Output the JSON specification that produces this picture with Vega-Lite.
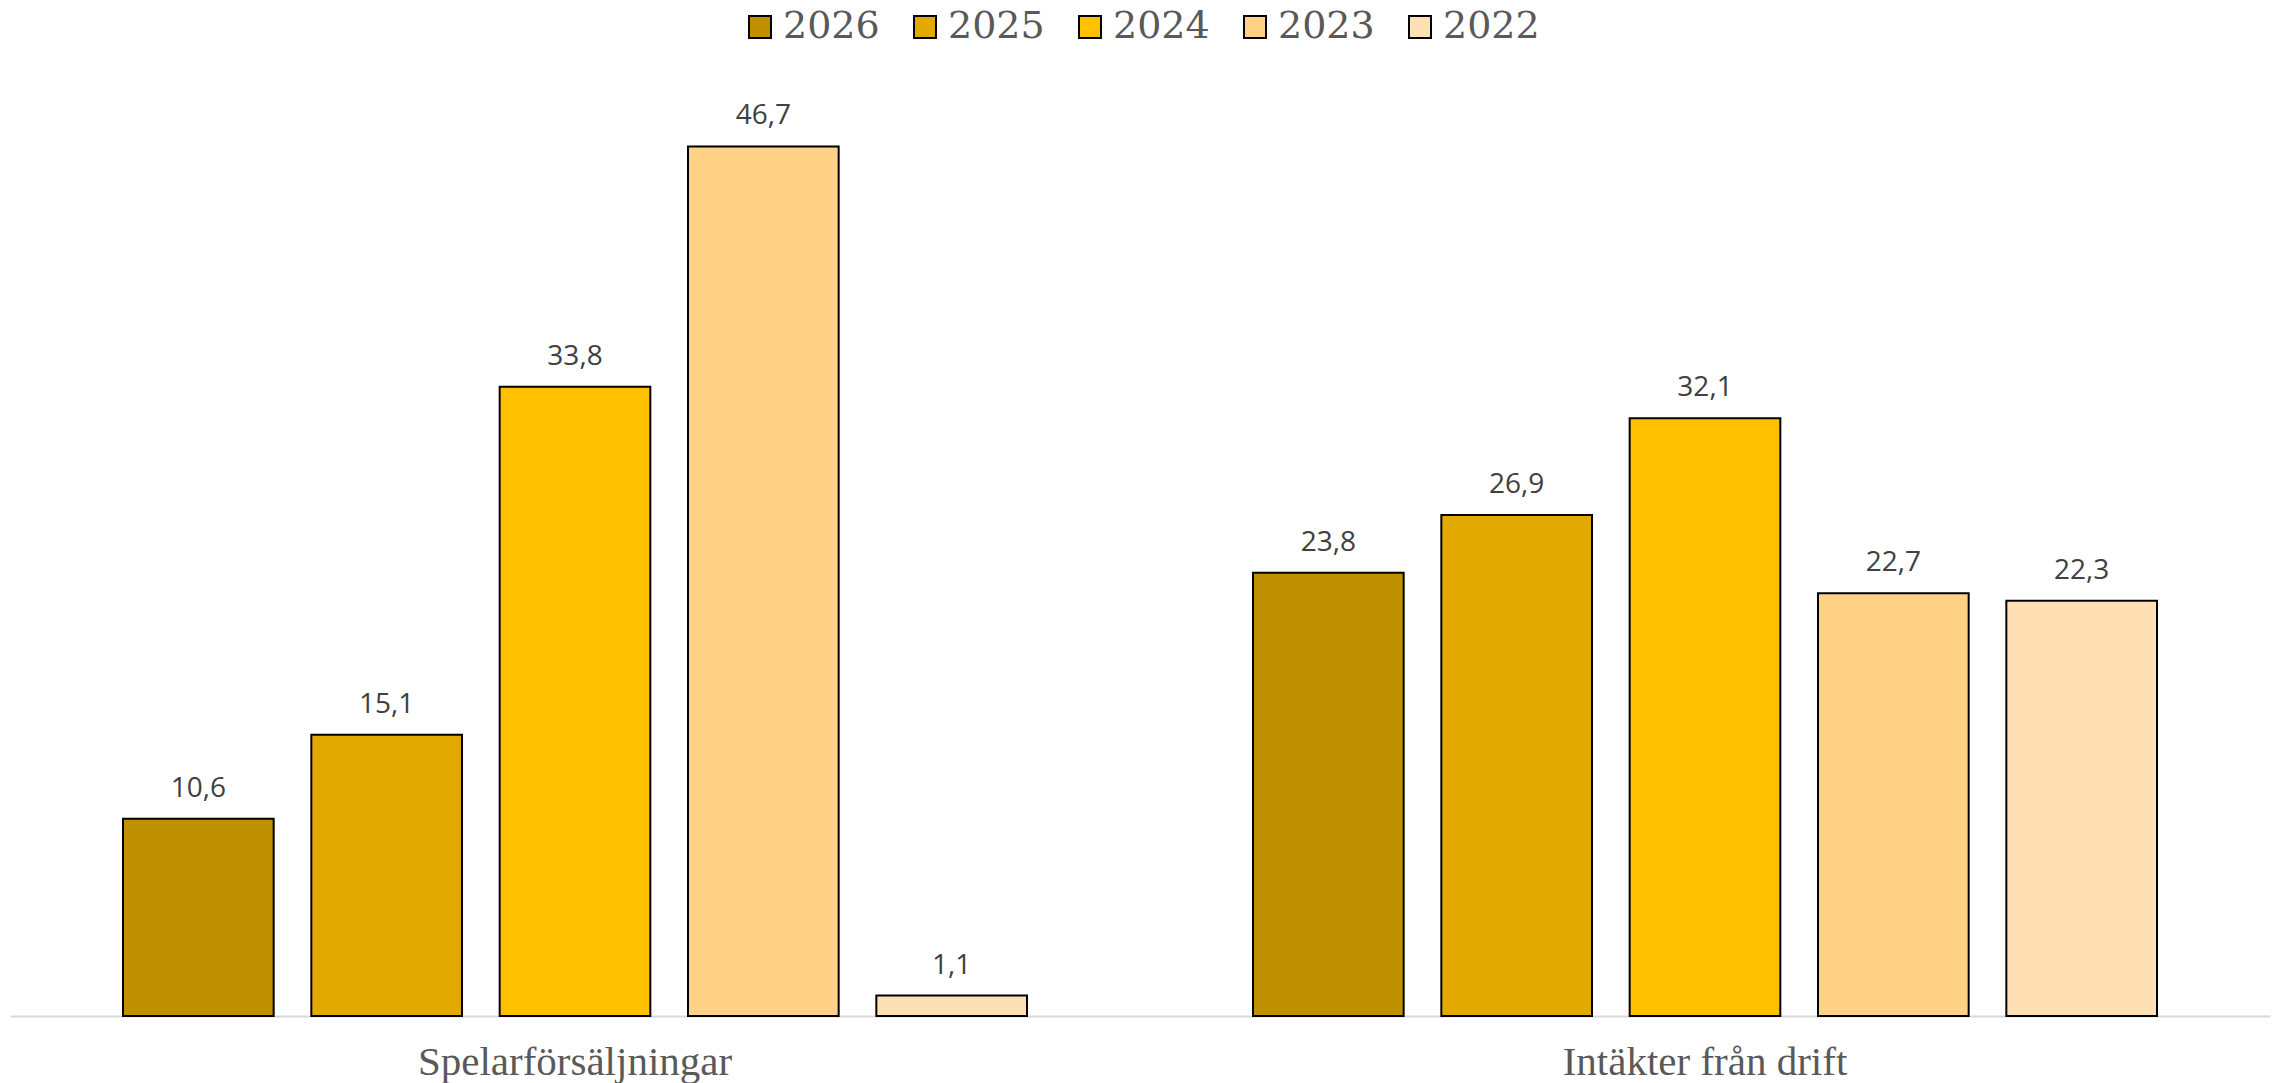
{
  "$schema": "https://vega.github.io/schema/vega-lite/v6.json",
  "autosize": {"type": "none"},
  "width": 2260,
  "height": 931,
  "padding": {"left": 10, "top": 85, "right": 15, "bottom": 67},
  "background": "white",
  "config": {
    "view": {"stroke": null},
    "legend": {"layout": {"anchor": "middle", "top": {"anchor": "middle"}}},
    "locale": {"number": {"decimal": ",", "thousands": " ", "grouping": [3], "currency": ["", " kr"]}}
  },
  "data": {
    "values": [
      {"kategori": "Spelarförsäljningar", "ar": "2026", "varde": 10.6},
      {"kategori": "Spelarförsäljningar", "ar": "2025", "varde": 15.1},
      {"kategori": "Spelarförsäljningar", "ar": "2024", "varde": 33.8},
      {"kategori": "Spelarförsäljningar", "ar": "2023", "varde": 46.7},
      {"kategori": "Spelarförsäljningar", "ar": "2022", "varde": 1.1},
      {"kategori": "Intäkter från drift", "ar": "2026", "varde": 23.8},
      {"kategori": "Intäkter från drift", "ar": "2025", "varde": 26.9},
      {"kategori": "Intäkter från drift", "ar": "2024", "varde": 32.1},
      {"kategori": "Intäkter från drift", "ar": "2023", "varde": 22.7},
      {"kategori": "Intäkter från drift", "ar": "2022", "varde": 22.3}
    ]
  },
  "encoding": {
    "x": {
      "field": "kategori",
      "type": "nominal",
      "sort": ["Spelarförsäljningar", "Intäkter från drift"],
      "scale": {"paddingInner": 0, "paddingOuter": 0},
      "axis": {
        "title": null,
        "labelAngle": 0,
        "labelFont": "Liberation Serif",
        "labelFontSize": 41,
        "labelColor": "#595959",
        "labelPadding": 26,
        "labelLimit": 0,
        "ticks": false,
        "domainColor": "#d9d9d9",
        "domainWidth": 2,
        "grid": false
      }
    },
    "xOffset": {
      "field": "ar",
      "type": "nominal",
      "sort": ["2026", "2025", "2024", "2023", "2022"],
      "scale": {"paddingInner": 0.2, "paddingOuter": 0.6}
    },
    "y": {
      "field": "varde",
      "type": "quantitative",
      "scale": {"domain": [0, 50], "nice": false},
      "axis": null
    }
  },
  "layer": [
    {
      "mark": {"type": "bar", "stroke": "black", "strokeWidth": 2},
      "encoding": {
        "color": {
          "field": "ar",
          "type": "nominal",
          "sort": ["2026", "2025", "2024", "2023", "2022"],
          "scale": {
            "domain": ["2026", "2025", "2024", "2023", "2022"],
            "range": ["#bf9000", "#e2aa00", "#ffc000", "#ffd285", "#ffe0b4"]
          },
          "legend": {
            "title": null,
            "orient": "top",
            "direction": "horizontal",
            "offset": 39,
            "symbolType": "square",
            "symbolSize": 484,
            "symbolStrokeColor": "black",
            "symbolStrokeWidth": 2,
            "symbolOpacity": 1,
            "labelFont": "DejaVu Serif",
            "labelFontSize": 38,
            "labelColor": "#595959",
            "labelOffset": 4,
            "columnPadding": 26,
            "labelLimit": 0
          }
        }
      }
    },
    {
      "mark": {
        "type": "text",
        "dy": -30,
        "baseline": "middle",
        "font": "Open Sans",
        "fontSize": 28,
        "color": "#404040"
      },
      "encoding": {
        "text": {"field": "varde", "type": "quantitative", "format": ".1f"}
      }
    }
  ]
}
